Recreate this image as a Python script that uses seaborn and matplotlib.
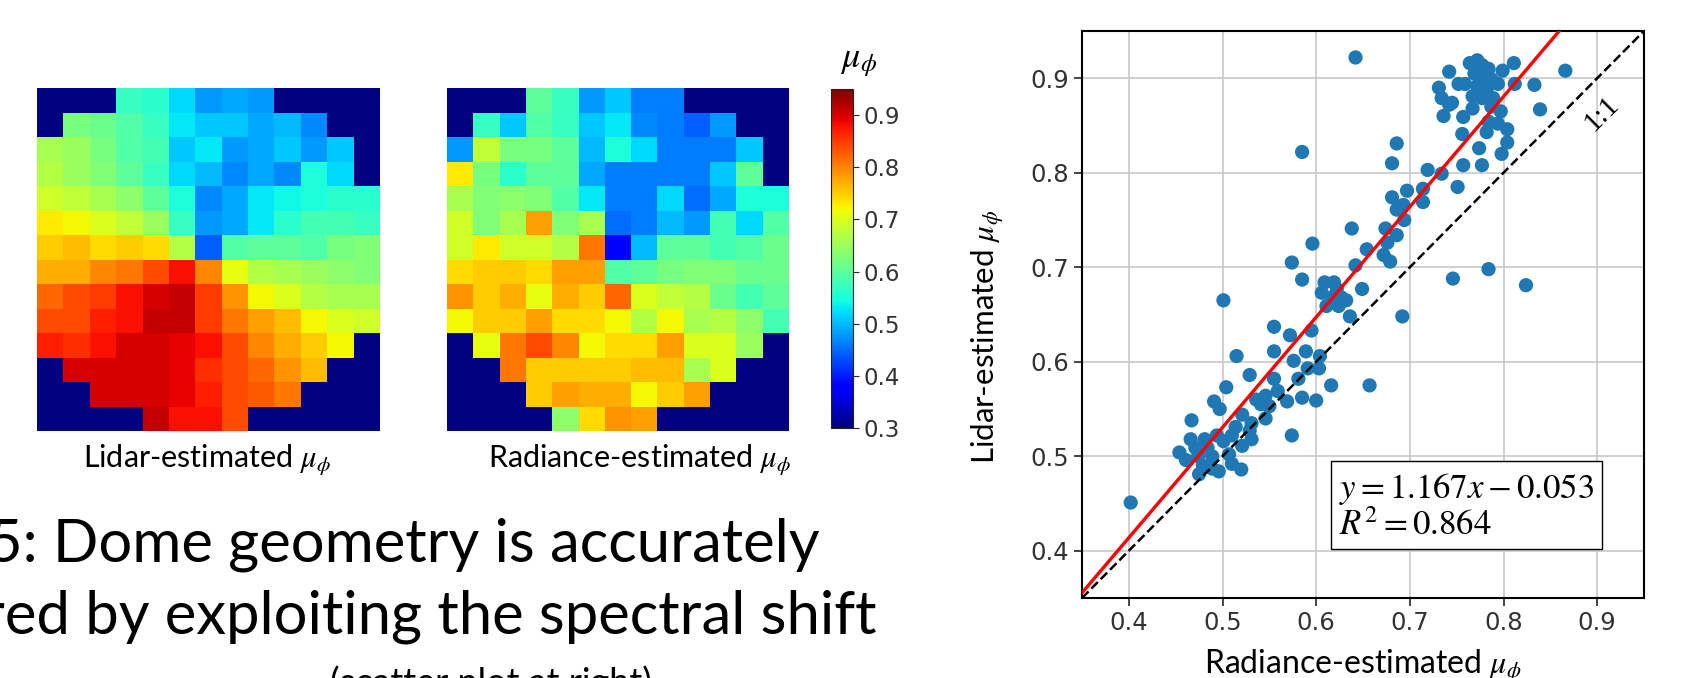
import numpy as np
import matplotlib
matplotlib.use("Agg")
from matplotlib import pyplot as plt
import seaborn as sns

# ---- data ----
# mu_phi maps, 14 rows x 13 cols; 0.30 = outside the dome (navy)
lidar_grid = [
    [.30, .30, .30, .57, .56, .52, .48, .49, .48, .30, .30, .30, .30],
    [.30, .62, .61, .59, .57, .53, .51, .51, .49, .50, .47, .30, .30],
    [.66, .65, .62, .59, .58, .51, .53, .48, .49, .51, .48, .51, .30],
    [.67, .65, .63, .60, .57, .52, .50, .47, .49, .47, .55, .52, .30],
    [.69, .68, .66, .64, .60, .55, .47, .49, .53, .54, .55, .56, .56],
    [.73, .72, .70, .68, .65, .57, .48, .49, .53, .56, .58, .58, .57],
    [.75, .76, .74, .75, .74, .67, .44, .59, .60, .60, .59, .62, .63],
    [.77, .77, .80, .81, .84, .88, .80, .71, .67, .66, .65, .64, .63],
    [.82, .84, .85, .88, .90, .91, .85, .79, .72, .70, .67, .66, .66],
    [.84, .84, .87, .88, .91, .91, .85, .81, .78, .76, .72, .70, .69],
    [.87, .86, .88, .90, .90, .89, .88, .84, .80, .77, .75, .72, .30],
    [.30, .90, .90, .90, .90, .89, .86, .84, .82, .79, .76, .30, .30],
    [.30, .30, .90, .90, .90, .89, .87, .84, .83, .81, .30, .30, .30],
    [.30, .30, .30, .30, .91, .88, .88, .84, .30, .30, .30, .30, .30],
]
radiance_grid = [
    [.30, .30, .30, .60, .57, .48, .51, .46, .46, .30, .30, .30, .30],
    [.30, .57, .51, .59, .57, .51, .53, .47, .46, .44, .48, .30, .30],
    [.48, .68, .62, .62, .60, .50, .55, .52, .46, .46, .46, .51, .30],
    [.73, .62, .56, .60, .60, .49, .46, .46, .46, .46, .51, .60, .30],
    [.66, .63, .64, .63, .59, .53, .46, .46, .52, .45, .49, .55, .55],
    [.69, .63, .66, .78, .63, .66, .45, .46, .50, .48, .58, .52, .59],
    [.69, .73, .69, .69, .67, .81, .38, .50, .60, .60, .58, .59, .61],
    [.74, .75, .75, .74, .78, .78, .59, .60, .62, .63, .63, .61, .61],
    [.79, .75, .77, .71, .77, .75, .82, .70, .68, .67, .61, .58, .60],
    [.72, .75, .75, .78, .74, .74, .72, .67, .72, .66, .67, .64, .58],
    [.30, .71, .81, .84, .80, .72, .74, .74, .78, .70, .70, .65, .30],
    [.30, .30, .81, .75, .75, .75, .75, .76, .76, .66, .70, .30, .30],
    [.30, .30, .30, .75, .78, .77, .77, .72, .75, .78, .30, .30, .30],
    [.30, .30, .30, .30, .64, .74, .79, .78, .30, .30, .30, .30, .30],
]
cbar_min, cbar_max = 0.30, 0.95
cbar_ticks = [0.3, 0.4, 0.5, 0.6, 0.7, 0.8, 0.9]

# scatter: radiance-estimated (x) vs lidar-estimated (y)
rad_mu = [0.742, 0.731, 0.734, 0.742, 0.736, 0.745, 0.752, 0.759, 0.764, 0.772,
          0.777, 0.784, 0.769, 0.777, 0.787, 0.794, 0.772, 0.782, 0.767, 0.777,
          0.789, 0.799, 0.811, 0.812, 0.833, 0.866, 0.839, 0.757, 0.767, 0.787,
          0.797, 0.784, 0.794, 0.804, 0.782, 0.756, 0.804, 0.774, 0.798, 0.757,
          0.777, 0.751, 0.734, 0.719,
          0.686, 0.681, 0.714, 0.714, 0.697, 0.693, 0.681, 0.686, 0.694, 0.674,
          0.686, 0.676, 0.672, 0.679, 0.638, 0.654, 0.642, 0.596, 0.574, 0.585,
          0.649, 0.636, 0.692, 0.609, 0.619, 0.606, 0.617, 0.627, 0.611, 0.624,
          0.632, 0.622,
          0.555, 0.572, 0.595, 0.555, 0.576, 0.589, 0.604, 0.591, 0.581, 0.603,
          0.616, 0.600, 0.585, 0.569, 0.555, 0.559, 0.546, 0.541, 0.536, 0.550,
          0.546, 0.574, 0.657,
          0.515, 0.529, 0.504, 0.491, 0.497, 0.467, 0.521, 0.531, 0.529, 0.514,
          0.531, 0.521, 0.510, 0.501, 0.494, 0.484, 0.489, 0.466, 0.454, 0.461,
          0.474, 0.479, 0.475, 0.489, 0.496, 0.510, 0.520, 0.507, 0.471, 0.481,
          0.402, 0.501, 0.585, 0.642, 0.784, 0.746, 0.824]
lid_mu = [0.907, 0.890, 0.879, 0.872, 0.860, 0.874, 0.894, 0.894, 0.916, 0.919,
          0.914, 0.910, 0.905, 0.901, 0.899, 0.894, 0.892, 0.888, 0.881, 0.879,
          0.879, 0.908, 0.916, 0.894, 0.893, 0.908, 0.867, 0.859, 0.868, 0.870,
          0.865, 0.854, 0.852, 0.846, 0.843, 0.841, 0.832, 0.826, 0.820, 0.808,
          0.808, 0.785, 0.799, 0.803,
          0.831, 0.810, 0.783, 0.769, 0.781, 0.766, 0.774, 0.761, 0.750, 0.741,
          0.734, 0.726, 0.713, 0.706, 0.741, 0.719, 0.702, 0.725, 0.705, 0.687,
          0.677, 0.648, 0.648, 0.684, 0.684, 0.673, 0.668, 0.668, 0.659, 0.659,
          0.665, 0.677,
          0.637, 0.628, 0.633, 0.611, 0.601, 0.611, 0.606, 0.593, 0.582, 0.593,
          0.575, 0.559, 0.562, 0.558, 0.582, 0.569, 0.564, 0.555, 0.560, 0.553,
          0.540, 0.522, 0.575,
          0.606, 0.586, 0.573, 0.558, 0.550, 0.538, 0.544, 0.535, 0.527, 0.531,
          0.518, 0.511, 0.522, 0.516, 0.522, 0.509, 0.500, 0.518, 0.504, 0.496,
          0.500, 0.490, 0.481, 0.487, 0.484, 0.492, 0.486, 0.502, 0.509, 0.518,
          0.451, 0.665, 0.822, 0.922, 0.698, 0.688, 0.681]
fit_slope, fit_icpt, fit_r2 = 1.167, -0.053, 0.864
ax_lims = (0.35, 0.95)
ax_ticks = [0.4, 0.5, 0.6, 0.7, 0.8, 0.9]

# ---- style ----
sns.set_style("white")
plt.rcParams['font.family'] = ['Lato', 'DejaVu Sans']
plt.rcParams['mathtext.fontset'] = 'stix'
plt.rcParams['text.color'] = 'black'
plt.rcParams['axes.labelcolor'] = 'black'

W, H = 1687, 678
fig = plt.figure(figsize=(W / 100, H / 100), dpi=100)


def box(x0, y0, x1, y1):
    # pixel box -> figure fraction rect
    return [x0 / W, 1 - y1 / H, (x1 - x0) / W, (y1 - y0) / H]


ax1 = fig.add_axes(box(37, 88, 380, 431))
ax2 = fig.add_axes(box(447, 88, 789, 431))
cax = fig.add_axes(box(831, 89, 853, 428))

sns.heatmap(np.array(lidar_grid), ax=ax1, cmap='jet', vmin=cbar_min, vmax=cbar_max,
            cbar_ax=cax, xticklabels=False, yticklabels=False)
sns.heatmap(np.array(radiance_grid), ax=ax2, cmap='jet', vmin=cbar_min, vmax=cbar_max,
            cbar=False, xticklabels=False, yticklabels=False)

cb = ax1.collections[0].colorbar
cb.outline.set_linewidth(0.8)
cb.outline.set_edgecolor('#222222')
cb.set_ticks(cbar_ticks)
cax.tick_params(labelsize=16.5, length=4, width=0.8, right=True, labelcolor='#333333')
for t in cax.get_yticklabels():
    t.set_fontfamily('DejaVu Sans')
fig.text(859 / W, 1 - 62 / H, r'$\mu_\phi$', ha='center', va='center', fontsize=26)

fig.text(207 / W, 1 - 460 / H, r'Lidar-estimated $\mu_\phi$', ha='center', va='center', fontsize=22)
fig.text(640 / W, 1 - 460 / H, r'Radiance-estimated $\mu_\phi$', ha='center', va='center', fontsize=22)

# slide text (clipped at the edges like the source)
fig.text(820 / W, 1 - 562 / H, '5: Dome geometry is accurately', ha='right', va='baseline', fontsize=43)
fig.text(876 / W, 1 - 633 / H, 'red by exploiting the spectral shift', ha='right', va='baseline', fontsize=43)
fig.text(491 / W, 1 - 694 / H, '(scatter plot at right)', ha='center', va='baseline', fontsize=26)

# ---- scatter ----
ax3 = fig.add_axes(box(1082, 31, 1644, 598))
sns.scatterplot(x=rad_mu, y=lid_mu, ax=ax3, s=105, color='#1f77b4', edgecolor='none',
                linewidth=0, zorder=3)
xs = np.array(ax_lims)
ax3.plot(xs, fit_slope * xs + fit_icpt, color='red', lw=2.4, zorder=5)
ax3.plot(xs, xs, color='black', ls='--', lw=1.8, zorder=4)
ax3.set_xlim(ax_lims)
ax3.set_ylim(ax_lims)
ax3.set_xticks(ax_ticks)
ax3.set_yticks(ax_ticks)
ax3.grid(True, color='#c8c8c8', lw=1.2)
ax3.set_axisbelow(True)
for sp in ax3.spines.values():
    sp.set_color('black')
    sp.set_linewidth(1.5)
ax3.tick_params(bottom=True, left=True, direction='out', length=6, width=1.2,
                labelsize=17.5, labelcolor='#333333')
for t in ax3.get_xticklabels() + ax3.get_yticklabels():
    t.set_fontfamily('DejaVu Sans')

ax3.set_xlabel(r'Radiance-estimated $\mu_\phi$', fontsize=23)
ax3.set_ylabel(r'Lidar-estimated $\mu_\phi$', fontsize=22.5)
ax3.xaxis.set_label_coords(0.5, -0.088)
ax3.yaxis.set_label_coords(-0.133, 0.46)

ax3.text(0.624, 0.447,
         f'$y = {fit_slope:.3f}x - {abs(fit_icpt):.3f}$\n$R^2 = {fit_r2:.3f}$',
         ha='left', va='center', fontsize=25, linespacing=1.05, zorder=6,
         bbox=dict(boxstyle='square,pad=0.22', fc='white', ec='black', lw=1))
ax3.text(0.905, 0.862, '1:1', rotation=45, ha='center', va='center', fontsize=21,
         family='Liberation Serif', zorder=6)

fig.savefig('out.png', dpi=100)
